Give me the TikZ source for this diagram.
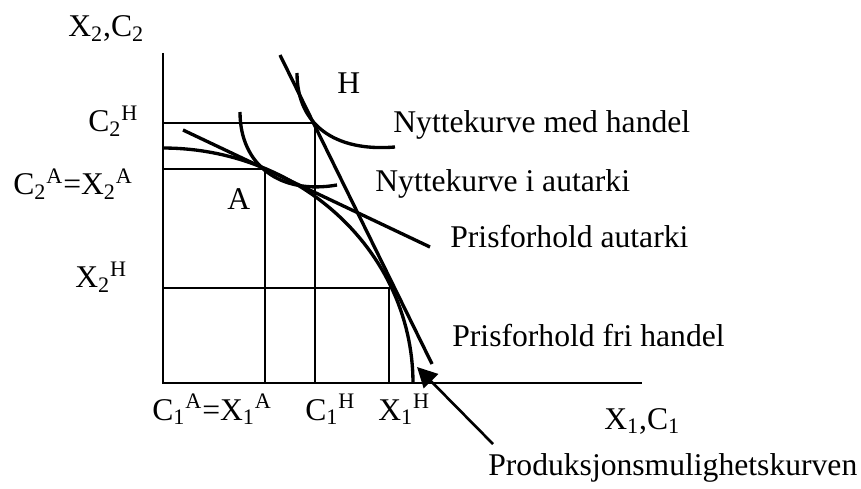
\documentclass[tikz,border=0pt]{standalone}
\usepackage{fontspec}
\setmainfont{Liberation Serif}
\usetikzlibrary{arrows.meta, positioning}

\begin{document}
\begin{tikzpicture}[x=0.02cm, y=-0.02cm,
	akse/.style={line width=1.6pt},
	hjelp/.style={line width=1.1pt},
	kurve/.style={line width=1.9pt},
	etikett/.style={anchor=base west, inner sep=0pt, font=\fontsize{18}{21}\selectfont},
	pil/.style={line width=1.5pt, -{Triangle[length=0.4cm, width=0.4cm]}}
	]
	\useasboundingbox (0,0) rectangle (861,489);
	
	% Axes
	\coordinate (o) at (163,383);
	\draw[akse] (163,53) -- (o) -- (642,383);
	
	% Helper lines
	\draw[hjelp] (163,123) -- (315,123) -- (315,383);
	\draw[hjelp] (163,169) -- (265,169) -- (265,383);
	\draw[hjelp] (163,288) -- (389,288) -- (389,383);
	
	% Production possibility curve
	\draw[kurve] plot[domain=0:90, samples=60] ({163+250*cos(\x)}, {383-235*sin(\x)});
	
	% Price lines
	\draw[kurve] (183,130) -- (430,247);
	\draw[kurve] (280,55) -- (432,364);
	
	% Indifference curves
	\draw[kurve] (297,73) .. controls (297,125) and (335,152) .. (395,147);
	\draw[kurve] (240,112) .. controls (240,165) and (280,195) .. (337,185);
	
	% Axis labels
	\node[etikett] (x2c2) at (68,37) {X\textsubscript{2},C\textsubscript{2}};
	\node[etikett] (c2h) at (88,132) {C\textsubscript{2}\textsuperscript{H}};
	\node[etikett] (c2a) at (13,195) {C\textsubscript{2}\textsuperscript{A}=X\textsubscript{2}\textsuperscript{A}};
	\node[etikett] (x2h) at (75,288) {X\textsubscript{2}\textsuperscript{H}};
	\node[etikett] (c1a) at (152,420) {C\textsubscript{1}\textsuperscript{A}=X\textsubscript{1}\textsuperscript{A}};
	\node[etikett] (c1h) at (305,420) {C\textsubscript{1}\textsuperscript{H}};
	\node[etikett] (x1h) at (378,420) {X\textsubscript{1}\textsuperscript{H}};
	\node[etikett] (x1c1) at (604,429) {X\textsubscript{1},C\textsubscript{1}};
	
	% Points
	\node[etikett] (a) at (227,210) {A};
	\node[etikett] (h) at (337,94) {H};
	
	% Curve labels
	\node[etikett] (nmh) at (393,133) {Nyttekurve med handel};
	\node[etikett] (nia) at (375,192) {Nyttekurve i autarki};
	\node[etikett] (pa) at (450,248) {Prisforhold autarki};
	\node[etikett] (pfh) at (452,346) {Prisforhold fri handel};
	\node[etikett] (prod) at (488,475) {Produksjonsmulighetskurven};
	
	% Arrow to the curve
	\coordinate (pilstart) at (493,444);
	\coordinate (ppfpkt) at (417,367);
	\draw[pil] (pilstart) -- (ppfpkt);
\end{tikzpicture}
\end{document}
